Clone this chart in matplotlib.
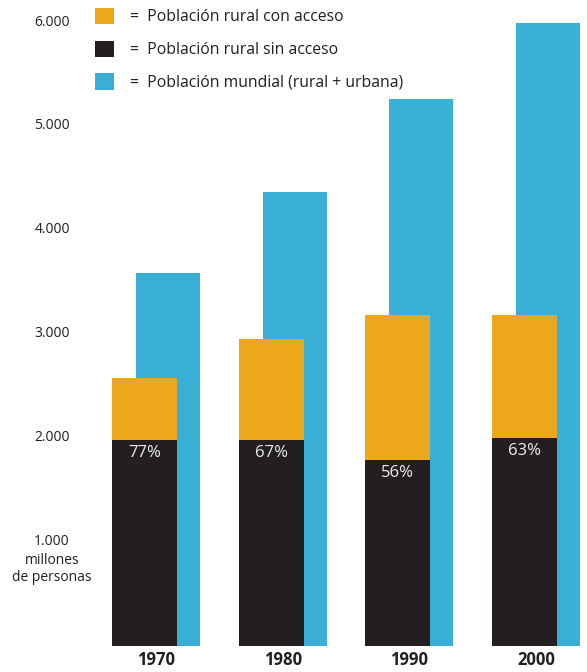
import numpy as np
import matplotlib
matplotlib.use('Agg')
import matplotlib.pyplot as plt
import matplotlib.transforms as mtransforms

plt.rcParams['font.family'] = ['Open Sans', 'DejaVu Sans']

# millones de personas
years = ['1970', '1980', '1990', '2000']
poblacion_mundial = [3590, 4370, 5270, 6000]
rural_sin_acceso = [1985, 1985, 1790, 2005]
rural_con_acceso = [595, 975, 1400, 1185]
porcentajes = ['77%', '67%', '56%', '63%']

c_orange = '#EDA71A'
c_black = '#231F20'
c_blue = '#3AAFD6'

fig = plt.figure(figsize=(5.87, 6.72), dpi=100)
ax = fig.add_axes([100/587, 26/672, 487/587, 646/672])

x = np.arange(len(years))
w = 0.513
blue_off = 0.1855

# blue behind, stacked bars in front
blue_bars = ax.bar(x + blue_off, poblacion_mundial, width=0.505, color=c_blue, zorder=1)
black_bars = ax.bar(x, rural_sin_acceso, width=w, color=c_black, zorder=2)
orange_bars = ax.bar(x, rural_con_acceso, width=w, bottom=rural_sin_acceso, color=c_orange, zorder=2)

for i in range(len(years)):
    ax.annotate(porcentajes[i], (x[i], rural_sin_acceso[i]), xytext=(0, -9.5),
                textcoords='offset points', ha='center', va='center',
                color='#EEEEEE', fontsize=12, zorder=3)

ax.set_xlim(-0.3512, 3.4925)
ax.set_ylim(0, 6223.5)

ax.set_xticks(x + 0.09)
ax.set_xticklabels(years, fontsize=12, fontweight='bold', color='#231F20')
ax.tick_params(axis='x', length=0, pad=3.5)

yt = [1000, 2000, 3000, 4000, 5000, 6000]
ax.set_yticks(yt)
ax.set_yticklabels(['1.000', '2.000', '3.000', '4.000', '5.000', '6.000'],
                   fontsize=10, color='#231F20', ha='center')
ax.tick_params(axis='y', length=0, pad=34.5)
offset = mtransforms.ScaledTranslation(0, 3/100, fig.dpi_scale_trans)
for lab in ax.get_yticklabels():
    lab.set_transform(lab.get_transform() + offset)

fig.text(52/587, 1 - 569/672, 'millones\nde personas', ha='center', va='center',
         fontsize=10, color='#231F20', linespacing=1.15)

for s in ax.spines.values():
    s.set_visible(False)

ax.legend([orange_bars, black_bars, blue_bars],
          ['=  Población rural con acceso', '=  Población rural sin acceso',
           '=  Población mundial (rural + urbana)'],
          loc='upper left', bbox_to_anchor=(95/587, 1 - 8/672),
          bbox_transform=fig.transFigure, frameon=False, fontsize=11.3,
          handlelength=1.2, handleheight=1.2, handletextpad=1.0,
          labelspacing=0.98, borderpad=0, borderaxespad=0,
          labelcolor='#231F20')

fig.savefig('out.png', dpi=100, facecolor='white')
